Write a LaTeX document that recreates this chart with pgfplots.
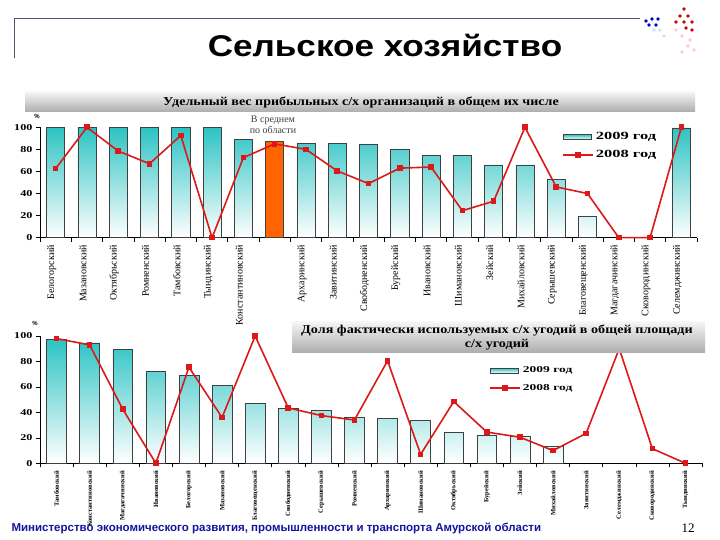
\documentclass[border=0pt]{standalone}
\usepackage{fontspec}
\setmainfont{Liberation Serif}
\newfontfamily\sans{Liberation Sans}
\newfontfamily\wideserif[FakeStretch=1.5]{Liberation Serif}
\newfontfamily\midserif[FakeStretch=1.35]{Liberation Serif}
\usepackage{pgfplots}
\pgfplotsset{compat=1.18}
\definecolor{barteal}{RGB}{45,195,195}
\definecolor{linered}{RGB}{220,25,25}
\definecolor{avgorange}{RGB}{255,100,0}
\definecolor{footblue}{RGB}{20,20,160}
\definecolor{framegray}{RGB}{80,85,110}
\pgfplotsset{
  mychart/.style={
    scale only axis,
    anchor=south west,
    clip=false,
    ymin=0, ymax=100,
    axis x line*=bottom, axis y line*=left,
    axis line style={line width=0.7pt},
    ytick={0,20,...,100},
    tick align=outside,
    major tick length=4pt,
    minor tick length=4pt,
    major x tick style={draw=none},
    minor x tick style={black, line width=0.6pt},
    ytick style={black, line width=0.6pt},
    /pgf/number format/assume math mode=true,
    yticklabel style={font=\midserif\bfseries\fontsize{9}{9}\selectfont},
    legend cell align=left,
  },
  barstyle/.style={ybar, bar shift=0pt, draw=black!75, line width=0.6pt,
    top color=barteal, bottom color=white,
    legend image code/.code={\draw[top color=barteal, bottom color=white, draw=black!75, line width=0.6pt] (0pt,-2.5pt) rectangle (28pt,2.5pt);}},
  linestyle/.style={linered, line width=1.6pt, mark=square*, mark size=2pt,
    legend image code/.code={\draw[mark repeat=2,mark phase=2,##1] plot coordinates {(0pt,0pt) (15pt,0pt) (30pt,0pt)};}},
}
\begin{document}
\begin{tikzpicture}
\path[use as bounding box, fill=white] (0pt,0pt) rectangle (720pt,540pt);
\begin{scope}[x=1pt,y=1pt]
% header
\draw[framegray, line width=0.8pt] (14,482) -- (14,522) -- (640,522);
\node[font=\sans\bfseries\fontsize{30}{30}\selectfont, xscale=1.17] at (385,495) {Сельское хозяйство};
% logo dots
\foreach \p in {(646,519),(652,521),(658,521),(649,515),(656,515)} \fill[blue!80!black] \p circle (1.8);
\foreach \p in {(654,510),(660,510),(664,504)} \fill[cyan!25] \p circle (1.8);
\foreach \p in {(684,531),(680,524),(688,524),(676,518),(684,518),(692,518),(686,512),(692,510)} \fill[red!80!black] \p circle (1.8);
\foreach \p in {(676,510),(682,504),(690,500),(688,494),(694,490),(682,488)} \fill[red!20] \p circle (1.8);
\end{scope}

% ---------- top chart ----------
\begin{axis}[mychart,
  at={(40pt,302.3pt)}, width=657pt, height=110.4pt,
  xmin=0.5, xmax=21.5,
  xtick={1,...,21},
  minor xtick={0.5,1.5,...,21.5},
  xticklabels={Белогорский,Мазановский,Октябрьский,Ромненский,Тамбовский,Тындинский,Константиновский,,Архаринский,Завитинский,Свободненский,Бурейский,Ивановский,Шимановский,Зейский,Михайловский,Серышевский,Благовещенский,Магдагачинский,Сковородинский,Селемджинский},
  xticklabel style={xshift=-4pt, rotate=90, anchor=east, font=\fontsize{10}{10}\selectfont},
  legend style={at={(0.79,0.99)}, anchor=north west, draw=none, fill=none,
    font=\wideserif\bfseries\fontsize{11}{11}\selectfont, row sep=5pt},
]
\addplot[barstyle, bar width=0.58] coordinates {
 (1,100) (2,100) (3,100) (4,100) (5,100) (6,100) (7,89)
 (9,85.5) (10,85.5) (11,84.5) (12,80) (13,74.5) (14,74.5) (15,66) (16,66)
 (17,53) (18,19) (21,99.5)};
\addlegendentry{2009 год}
\addplot[ybar, bar shift=0pt, bar width=0.58, fill=avgorange, draw=black!75, line width=0.6pt, forget plot] coordinates {(8,87)};
\addplot[linestyle] coordinates {
 (1,62.5) (2,100) (3,78.5) (4,67) (5,92.5) (6,0) (7,72.5) (8,85) (9,80) (10,60.5)
 (11,49) (12,63) (13,64) (14,24.5) (15,33) (16,100) (17,46) (18,40) (19,0) (20,0) (21,100)};
\addlegendentry{2008 год}
\end{axis}

% ---------- bottom chart ----------
\begin{axis}[mychart,
  at={(40pt,76.7pt)}, width=662pt, height=127.3pt,
  xmin=0.5, xmax=20.5,
  xtick={1,...,20},
  minor xtick={0.5,1.5,...,20.5},
  xticklabels={Тамбовский,Константиновский,Магдагачинский,Ивановский,Белогорский,Мазановский,Благовещенский,Свободненский,Серышевский,Ромненский,Архаринский,Шимановский,Октябрьский,Бурейский,Зейский,Михайловский,Завитинский,Селемджинский,Сковородинский,Тындинский},
  xticklabel style={rotate=90, anchor=east, font=\bfseries\fontsize{6.5}{6.5}\selectfont},
  legend style={at={(0.674,0.79)}, anchor=north west, draw=none, fill=none,
    font=\wideserif\bfseries\fontsize{9}{9}\selectfont, row sep=6pt},
]
\addplot[barstyle, bar width=0.6] coordinates {
 (1,97.5) (2,94.5) (3,89.5) (4,72.5) (5,69) (6,61) (7,47) (8,43) (9,41.5) (10,36.5)
 (11,35) (12,34) (13,24.3) (14,21.7) (15,21) (16,13)};
\addlegendentry{2009 год}
\addplot[linestyle] coordinates {
 (1,98) (2,93) (3,42.5) (4,0) (5,75.5) (6,36) (7,100) (8,43.5) (9,37.5) (10,34)
 (11,80.5) (12,7) (13,48.5) (14,24.5) (15,20.5) (16,10) (17,23.5) (18,90) (19,11.5) (20,0)};
\addlegendentry{2008 год}
\end{axis}

\begin{scope}[x=1pt,y=1pt]
\node[font=\sans\fontsize{6}{6}\selectfont\bfseries] at (37,424) {\%};
\node[align=center, text=black!75, font=\fontsize{10}{11}\selectfont] at (273,415) {В среднем\\по области};
\node[font=\sans\fontsize{6}{6}\selectfont\bfseries] at (35,217) {\%};
% title bands
\shade[top color=gray!8, bottom color=gray!65] (25,428) rectangle (695,448);
\node[font=\bfseries\fontsize{12}{12}\selectfont, xscale=1.17] at (361,438) {Удельный вес прибыльных с/х организаций в общем их числе};
\shade[top color=gray!8, bottom color=gray!65] (292,187) rectangle (705,218);
\node[align=center, font=\bfseries\fontsize{12}{14.5}\selectfont, xscale=1.18] at (497,202.5) {Доля фактически используемых с/х угодий в общей площади\\с/х угодий};
% footer
\node[anchor=west, text=footblue, font=\sans\bfseries\fontsize{11.5}{11.5}\selectfont] at (8,12) {Министерство экономического развития, промышленности и транспорта Амурской области};
\node[font=\fontsize{13}{13}\selectfont] at (688,12) {12};
\end{scope}
\end{tikzpicture}
\end{document}
